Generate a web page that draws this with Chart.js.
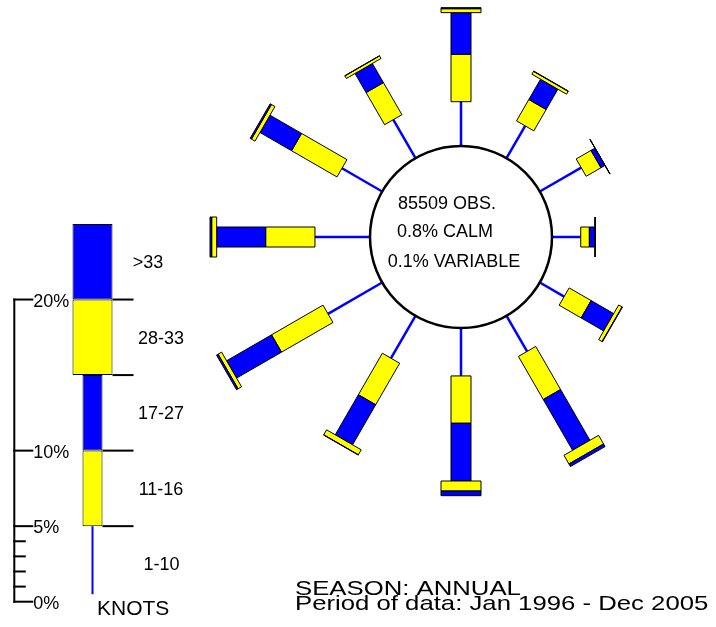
<!DOCTYPE html>
<html>
<head>
<meta charset="utf-8">
<script src="https://cdn.jsdelivr.net/npm/chart.js@4/dist/chart.umd.min.js"></script>
<style>
  html, body { margin: 0; padding: 0; background: #ffffff; }
  #wrap { position: relative; width: 716px; height: 627px; overflow: hidden; background: #ffffff; }
  #wrap canvas { position: absolute; left: 0; top: 0; }
</style>
</head>
<body>
<div id="wrap">
  <canvas id="rose" width="716" height="627"></canvas>
  <canvas id="key" width="200" height="627"></canvas>
</div>
<script>
// Sectors clockwise from north, 30 degrees apart
const directions = ['N', 'NNE', 'ENE', 'E', 'ESE', 'SE', 'S', 'SSW', 'WSW', 'W', 'WNW', 'NNW'];
const bearings = [0, 30, 60, 90, 120, 150, 180, 210, 240, 270, 300, 330];

// Percent of all observations in each sector, split by speed band (knots)
const speed1to10  = [2.93, 2.47, 3.16, 1.90, 1.86, 2.72, 3.17, 3.24, 4.14, 3.64, 3.07, 2.94];
const speed11to16 = [3.14, 1.63, 1.13, 0.57, 1.68, 3.29, 3.13, 3.17, 3.93, 3.26, 3.47, 2.45];
const speed17to27 = [2.75, 1.55, 0.30, 0.38, 1.72, 3.88, 3.82, 3.06, 3.43, 3.24, 2.41, 1.46];
const speed28to33 = [0.26, 0.22, 0.01, 0.00, 0.26, 0.66, 0.66, 0.38, 0.27, 0.33, 0.27, 0.20];
const speedOver33 = [0.07, 0.02, 0.00, 0.00, 0.03, 0.20, 0.31, 0.02, 0.12, 0.11, 0.10, 0.01];

const centreLines = ['85509 OBS.', '0.8% CALM', '0.1% VARIABLE'];
const footerLines = ['SEASON: ANNUAL', 'Period of data: Jan 1996 - Dec 2005'];

// Speed key
const keyBands  = ['1-10', '11-16', '17-27', '28-33', '>33'];
const keyRanges = [[0.5, 5], [5, 10], [10, 15], [15, 20], [20, 25]];
const keyTicks  = [0, 1, 2, 3, 4, 5, 10, 20];
const keyTickLabels = ['0%', '', '', '', '', '5%', '10%', '20%'];
const keyUnit = 'KNOTS';

const BLUE = '#0000ff';
const YELLOW = '#ffff00';
const INK = '#000000';
const FONT = '"Liberation Sans", Arial, sans-serif';

// ---------- wind rose ----------
const PX_PER_PCT = 15.12;           // same percent scale as the key
const CX = 461, CY = 237;           // rose centre on the canvas
const CALM_R = 91 / PX_PER_PCT;     // calm circle radius, in percent units
const NARROW = 10 / PX_PER_PCT;     // half width of the 11-16 / 17-27 bars
const WIDE = 20 / PX_PER_PCT;       // half width of the 28-33 / >33 bars

const roseBars = [
  { values: speed11to16, color: YELLOW, half: NARROW },
  { values: speed17to27, color: BLUE,   half: NARROW },
  { values: speed28to33, color: YELLOW, half: WIDE },
  { values: speedOver33, color: BLUE,   half: WIDE }
];

const rosePlugin = {
  id: 'windRose',
  afterDatasetsDraw(chart) {
    const { ctx, scales: { x, y } } = chart;
    // radial distance r and sideways offset t along a bearing -> canvas pixels
    const P = (r, t, deg) => {
      const a = deg * Math.PI / 180;
      const dx = r * Math.sin(a) + t * Math.cos(a);
      const dy = r * Math.cos(a) - t * Math.sin(a);
      return [x.getPixelForValue(dx), y.getPixelForValue(dy)];
    };
    ctx.save();
    bearings.forEach((deg, i) => {
      let r = CALM_R;
      const rLine = r + speed1to10[i];
      const a = P(r, 0, deg), b = P(rLine, 0, deg);
      ctx.beginPath();
      ctx.moveTo(a[0], a[1]);
      ctx.lineTo(b[0], b[1]);
      ctx.strokeStyle = BLUE;
      ctx.lineWidth = 2.5;
      ctx.stroke();
      r = rLine;
      roseBars.forEach(band => {
        const r2 = r + band.values[i];
        const pts = [P(r, -band.half, deg), P(r, band.half, deg), P(r2, band.half, deg), P(r2, -band.half, deg)];
        ctx.beginPath();
        ctx.moveTo(pts[0][0], pts[0][1]);
        for (let k = 1; k < 4; k++) ctx.lineTo(pts[k][0], pts[k][1]);
        ctx.closePath();
        ctx.fillStyle = band.color;
        ctx.fill();
        ctx.strokeStyle = INK;
        ctx.lineWidth = 1;
        ctx.stroke();
        r = r2;
      });
    });

    // calm circle
    const c = P(0, 0, 0);
    const rad = x.getPixelForValue(CALM_R) - x.getPixelForValue(0);
    ctx.beginPath();
    ctx.arc(c[0], c[1], rad, 0, Math.PI * 2);
    ctx.fillStyle = '#ffffff';
    ctx.fill();
    ctx.strokeStyle = INK;
    ctx.lineWidth = 2.5;
    ctx.stroke();

    ctx.fillStyle = INK;
    ctx.font = '18px ' + FONT;
    ctx.textAlign = 'center';
    ctx.textBaseline = 'alphabetic';
    const offs = [[-14, -28.5], [-16, -0.5], [-7, 29.5]];
    centreLines.forEach((t, k) => ctx.fillText(t, c[0] + offs[k][0], c[1] + offs[k][1]));

    // footer
    ctx.font = '21px ' + FONT;
    ctx.textAlign = 'left';
    const fy = [595, 610];
    footerLines.forEach((t, k) => {
      ctx.save();
      ctx.translate(295, fy[k]);
      ctx.scale(1.225, 1);
      ctx.fillText(t, 0, 0);
      ctx.restore();
    });
    ctx.restore();
  }
};

new Chart(document.getElementById('rose'), {
  type: 'scatter',
  data: { datasets: [] },
  options: {
    responsive: false,
    animation: false,
    events: [],
    layout: { padding: 0 },
    plugins: { legend: { display: false }, tooltip: { enabled: false } },
    scales: {
      x: { type: 'linear', display: false, min: -CX / PX_PER_PCT, max: (716 - CX) / PX_PER_PCT },
      y: { type: 'linear', display: false, min: -(627 - CY) / PX_PER_PCT, max: CY / PX_PER_PCT }
    }
  },
  plugins: [rosePlugin]
});

// ---------- speed key ----------
const KEY_W = 185;
const keyStyles = [
  { backgroundColor: BLUE,   borderWidth: 0, barPercentage: 2 / KEY_W },
  { backgroundColor: YELLOW, borderWidth: 1, barPercentage: 20 / KEY_W },
  { backgroundColor: BLUE,   borderWidth: 1, barPercentage: 20 / KEY_W },
  { backgroundColor: YELLOW, borderWidth: 1, barPercentage: 40 / KEY_W },
  { backgroundColor: BLUE,   borderWidth: 1, barPercentage: 40 / KEY_W }
];

const keyPlugin = {
  id: 'speedKey',
  afterDatasetsDraw(chart) {
    const { ctx, scales: { y } } = chart;
    ctx.save();
    ctx.strokeStyle = INK;
    ctx.fillStyle = INK;
    ctx.lineWidth = 2;

    // percent axis
    const ax = 14.3;
    ctx.beginPath();
    ctx.moveTo(ax, y.getPixelForValue(0) + 1);
    ctx.lineTo(ax, y.getPixelForValue(20) - 1);
    ctx.stroke();
    ctx.font = '18px ' + FONT;
    ctx.textAlign = 'left';
    ctx.textBaseline = 'alphabetic';
    keyTicks.forEach((v, k) => {
      const py = y.getPixelForValue(v);
      const len = keyTickLabels[k] ? 19 : 11.5;
      ctx.beginPath();
      ctx.moveTo(ax - 1, py);
      ctx.lineTo(ax + len, py);
      ctx.stroke();
      if (keyTickLabels[k]) ctx.fillText(keyTickLabels[k], ax + 19, py + 7);
    });

    // band dividers, from the bar edge out to the labels
    for (let k = 1; k < keyRanges.length; k++) {
      const bar = chart.getDatasetMeta(k).data[0];
      const py = y.getPixelForValue(keyRanges[k][0]);
      ctx.beginPath();
      ctx.moveTo(bar.x + bar.width / 2, py);
      ctx.lineTo(133.5, py);
      ctx.stroke();
    }

    // band names
    ctx.textAlign = 'center';
    const labelX = [161.5, 161, 161, 161, 148];
    keyBands.forEach((b, k) => {
      const lo = k === 0 ? 0 : keyRanges[k][0];
      const mid = (y.getPixelForValue(lo) + y.getPixelForValue(keyRanges[k][1])) / 2;
      ctx.fillText(b, labelX[k], mid + 6.5);
    });

    ctx.font = '21px ' + FONT;
    ctx.textAlign = 'left';
    ctx.fillText(keyUnit, 97, 615);
    ctx.restore();
  }
};

new Chart(document.getElementById('key'), {
  type: 'bar',
  data: {
    labels: [keyUnit],
    datasets: keyBands.map((b, k) => Object.assign({
      label: b,
      data: [keyRanges[k]],
      borderColor: INK,
      borderSkipped: false,
      categoryPercentage: 1,
      grouped: false
    }, keyStyles[k]))
  },
  options: {
    responsive: false,
    animation: false,
    events: [],
    layout: { padding: { left: 0, right: 200 - KEY_W, top: 224, bottom: 25.3 } },
    plugins: { legend: { display: false }, tooltip: { enabled: false } },
    scales: {
      x: { display: false },
      y: { display: false, min: 0, max: 25 }
    }
  },
  plugins: [keyPlugin]
});
</script>
</body>
</html>
